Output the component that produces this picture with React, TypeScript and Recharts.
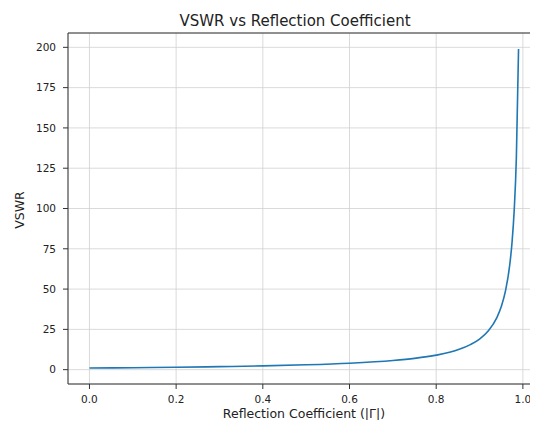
import { LineChart, Line, XAxis, YAxis, CartesianGrid, ReferenceLine } from 'recharts'

// reflection coefficient |Γ| and the VSWR
const gammaValues = [0, 0.1, 0.2, 0.3, 0.4, 0.5, 0.6, 0.7, 0.75, 0.8, 0.85, 0.88, 0.9, 0.92, 0.94, 0.95, 0.96, 0.97, 0.975, 0.98, 0.985, 0.99]
const vswrValues = [1, 1.22, 1.5, 1.86, 2.33, 3, 4, 5.67, 7, 9, 12.3, 15.7, 19, 24, 32.3, 39, 49, 65.7, 79, 99, 132, 199]

const xTicks = [0, 0.2, 0.4, 0.6, 0.8, 1.0]
const yTicks = [0, 25, 50, 75, 100, 125, 150, 175, 200]

const title = 'VSWR vs Reflection Coefficient'
const xLabel = 'Reflection Coefficient (|Γ|)'
const yLabel = 'VSWR'

const data = gammaValues.map((g, i) => ({ gamma: g, vswr: vswrValues[i] }))

const font = '"DejaVu Sans", sans-serif'
const tickStyle = { fontSize: 10.5, fill: '#222', fontFamily: font }

export default function App() {
  return (
    <div style={{ margin: -8, width: 538, height: 428, overflow: 'hidden', position: 'relative', background: '#fff' }}>
      <LineChart
        width={560}
        height={428}
        data={data}
        margin={{ top: 33, right: 20, bottom: 0, left: 0 }}
        style={{ position: 'absolute', left: 0, top: 0 }}
      >
        <CartesianGrid stroke="#d0d0d0" strokeWidth={0.8} />
        <XAxis
          dataKey="gamma"
          type="number"
          domain={[-0.0495, 1.0395]}
          ticks={xTicks}
          allowDataOverflow
          tickFormatter={(v) => v.toFixed(1)}
          tick={tickStyle}
          stroke="#333"
          tickSize={5}
          tickMargin={7}
          height={44}
          label={{ value: xLabel, position: 'insideBottom', offset: 10, fontSize: 12.5, fill: '#222', fontFamily: font }}
        />
        <YAxis
          type="number"
          domain={[-8.9, 208.9]}
          ticks={yTicks}
          allowDataOverflow
          tick={tickStyle}
          stroke="#333"
          tickSize={5}
          tickMargin={7}
          width={68}
        />
        <ReferenceLine y={208.9} stroke="#333" />
        <Line
          type="monotone"
          dataKey="vswr"
          stroke="#1f77b4"
          strokeWidth={1.6}
          dot={false}
          isAnimationActive={false}
        />
      </LineChart>
      <div
        style={{
          position: 'absolute', left: 0, width: 590, top: 14, lineHeight: 1, textAlign: 'center',
          fontFamily: font, fontSize: 15, color: '#222', zIndex: 1
        }}
      >
        {title}
      </div>
      <div
        style={{
          position: 'absolute', left: 20, top: 210, lineHeight: 1, whiteSpace: 'nowrap',
          transform: 'translate(-50%, -50%) rotate(-90deg)',
          fontFamily: font, fontSize: 12.5, color: '#222', zIndex: 1
        }}
      >
        {yLabel}
      </div>
    </div>
  )
}
